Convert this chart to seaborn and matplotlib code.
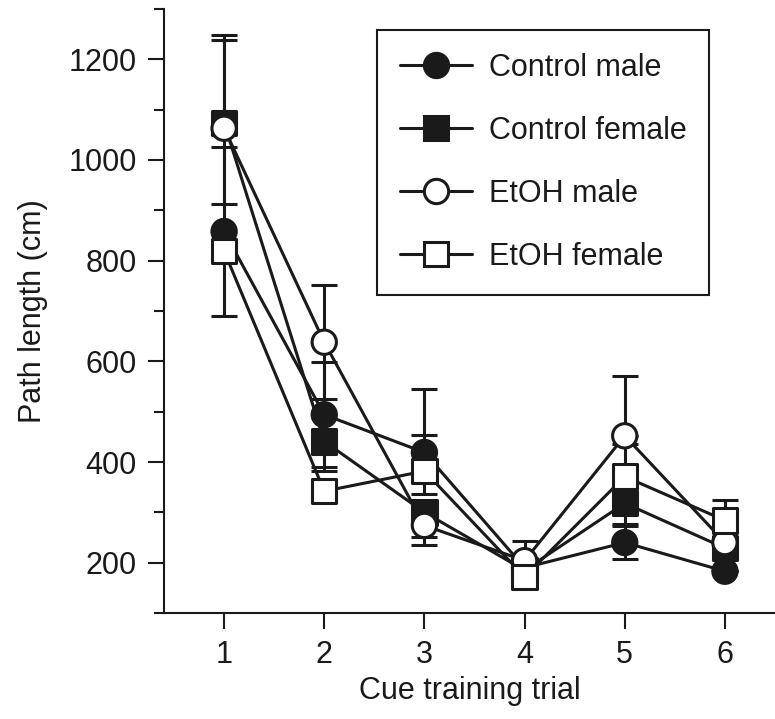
import matplotlib
matplotlib.use("Agg")
import matplotlib.pyplot as plt
from matplotlib.lines import Line2D
from matplotlib.ticker import FixedLocator
import seaborn as sns
import pandas as pd

# ---- data ----
trials = [1, 2, 3, 4, 5, 6]
groups = ["Control male", "Control female", "EtOH male", "EtOH female"]
control_male = [858, 494, 419, 190, 240, 183]
control_female = [1074, 441, 300, 185, 318, 229]
etoh_male = [1063, 638, 274, 204, 452, 240]
etoh_female = [819, 342, 382, 172, 371, 284]
# visible error bar extents (lower, upper)
control_male_lo = [167, 104, 0, 0, 33, 0]
control_male_hi = [168, 104, 127, 0, 33, 0]
control_female_lo = [161, 58, 48, 0, 42, 0]
control_female_hi = [174, 0, 0, 0, 0, 0]
etoh_male_lo = [0, 113, 39, 0, 0, 0]
etoh_male_hi = [176, 113, 0, 40, 118, 0]
etoh_female_lo = [0, 0, 45, 0, 0, 0]
etoh_female_hi = [0, 0, 71, 0, 64, 40]
y_major = [200, 400, 600, 800, 1000, 1200]
y_minor = [100, 300, 500, 700, 900, 1100, 1300]

values = [control_male, control_female, etoh_male, etoh_female]
lows = [control_male_lo, control_female_lo, etoh_male_lo, etoh_female_lo]
highs = [control_male_hi, control_female_hi, etoh_male_hi, etoh_female_hi]

rows = []
for g, v in zip(groups, values):
    for t, y in zip(trials, v):
        rows.append({"trial": t, "path": y, "group": g})
df = pd.DataFrame(rows)

INK = "#1a1a1a"
face = {"Control male": INK, "Control female": INK, "EtOH male": "white", "EtOH female": "white"}
mk = {"Control male": "o", "Control female": "s", "EtOH male": "o", "EtOH female": "s"}

sns.set_style("ticks")
plt.rcParams["font.family"] = ["Liberation Sans", "DejaVu Sans"]

fig = plt.figure(figsize=(7.75, 7.19), dpi=100)
ax = fig.add_axes([0.2116, 0.1474, 0.7884, 0.8401])

MS = 17.5
LW = 2.2

sns.lineplot(data=df, x="trial", y="path", hue="group", hue_order=groups,
             palette={g: INK for g in groups}, linewidth=LW, legend=False,
             ax=ax, zorder=2, errorbar=None, sort=False)

for g, v, lo, hi in zip(groups, values, lows, highs):
    ax.errorbar(trials, v, yerr=[lo, hi], fmt="none", ecolor=INK,
                elinewidth=LW, capsize=9.4, capthick=LW, zorder=2.5)

sns.scatterplot(data=df, x="trial", y="path", hue="group", style="group",
                hue_order=groups, style_order=groups, palette=face, markers=mk,
                s=MS ** 2, edgecolor=INK, linewidth=LW, legend=False, ax=ax,
                zorder=3)

ax.set_xlim(0.4, 6.5)
ax.set_ylim(100, 1300)
ax.set_xticks(trials)
ax.set_xticklabels([str(t) for t in trials])
ax.yaxis.set_major_locator(FixedLocator(y_major))
ax.yaxis.set_minor_locator(FixedLocator(y_minor))
ax.set_yticklabels([str(v) for v in y_major])

for side in ["top", "right"]:
    ax.spines[side].set_visible(False)
for side in ["left", "bottom"]:
    ax.spines[side].set_linewidth(1.5)
    ax.spines[side].set_color(INK)

ax.tick_params(axis="both", which="major", length=11.5, width=1.5, color=INK,
               labelsize=22, pad=8, labelcolor=INK)
ax.tick_params(axis="y", which="minor", length=7, width=1.5, color=INK)

ax.set_xlabel("Cue training trial", fontsize=22, color=INK)
ax.set_ylabel("Path length (cm)", fontsize=22, color=INK)
ax.xaxis.set_label_coords(0.5, -0.105)
ax.yaxis.set_label_coords(-0.19, 0.5)

handles = [Line2D([0], [0], color=INK, linewidth=LW, marker=mk[g], markersize=MS,
                  markerfacecolor=face[g], markeredgecolor=INK, markeredgewidth=LW)
           for g in groups]
leg = ax.legend(handles=handles, labels=groups, loc="upper left",
                bbox_to_anchor=(377 / 775, 1 - 30 / 719), bbox_transform=fig.transFigure,
                fontsize=22, frameon=True, fancybox=False, framealpha=1,
                edgecolor=INK, handlelength=2.35, handletextpad=0.55,
                labelspacing=1.08, borderpad=0.75, borderaxespad=0)
leg.get_frame().set_linewidth(1.5)
for t in leg.get_texts():
    t.set_color(INK)

fig.savefig("out.png", dpi=100)
